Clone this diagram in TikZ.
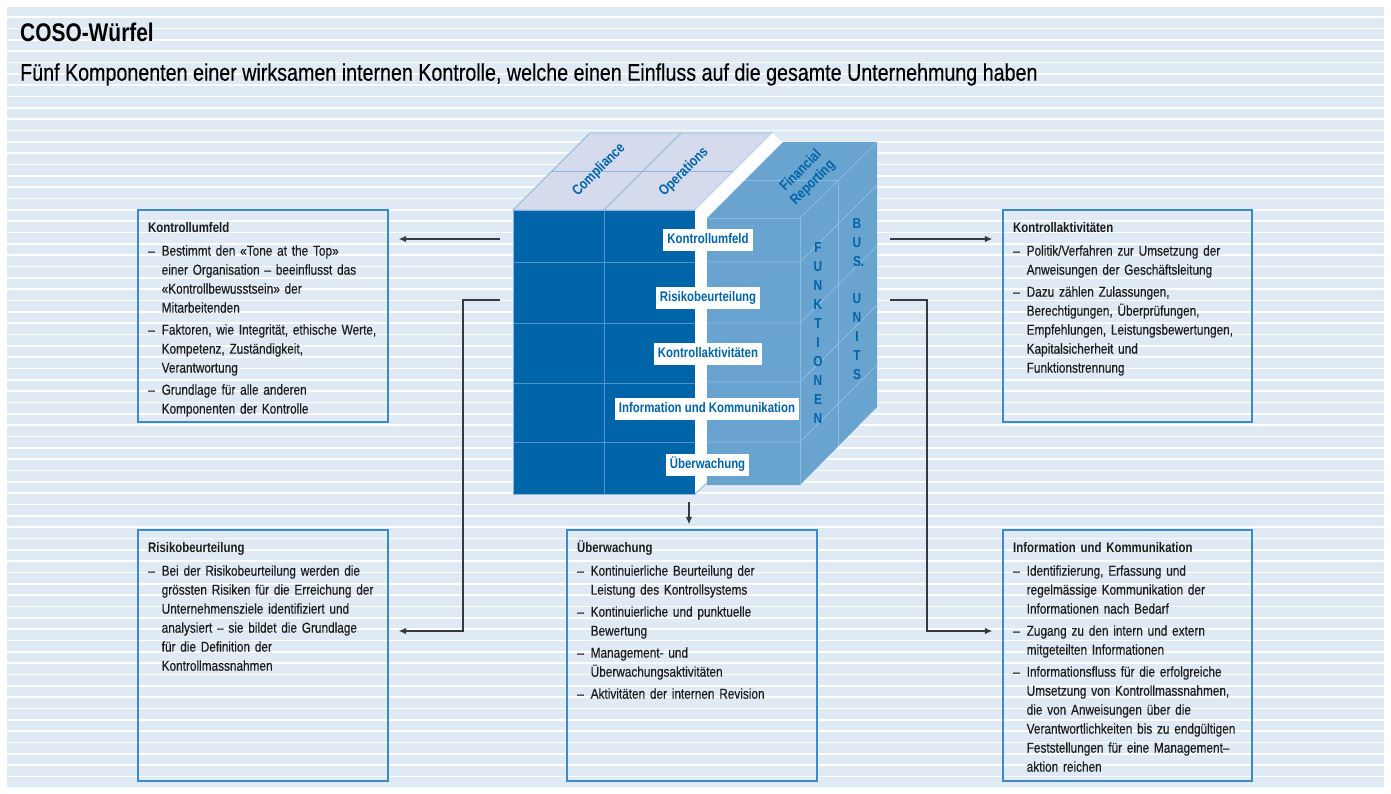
\documentclass[tikz,border=0pt]{standalone}
\usepackage{fontspec}
\setmainfont{Liberation Sans}[FakeStretch=0.82, UprightFeatures={FakeBold=0.3}]
\usetikzlibrary{arrows.meta}

\definecolor{bgblue}{HTML}{DFEAF4}
\definecolor{boxblue}{HTML}{3B8BCB}
\definecolor{cubedark}{HTML}{0064A8}
\definecolor{cubelight}{HTML}{68A4CF}
\definecolor{cubetop}{HTML}{D5DBEC}
\definecolor{topline}{HTML}{8DB7DD}
\definecolor{frontline}{HTML}{5296CE}
\definecolor{lightline}{HTML}{8CBCE0}
\definecolor{ink}{HTML}{1C1C1C}
\definecolor{arrowgray}{HTML}{343A40}

% list helpers for the panel texts
\newcommand{\dashitem}{\makebox[13.5pt][l]{–}}
\newcommand{\cont}{\hspace*{13.5pt}}
\newcommand{\ptitle}[1]{\noindent\rule{0pt}{14pt}{\fontsize{13.9}{19}\selectfont\bfseries #1}}

\begin{document}
\begin{tikzpicture}[x=1pt,y=-1pt,
  stripe/.style={draw=white, line width=1.6pt},
  panel/.style={draw=boxblue, line width=1.1pt, inner sep=0pt},
  bodytext/.style={anchor=north west, inner sep=0pt, text width=262pt, align=left,
    font=\fontsize{14.4}{19}\selectfont, text=ink},
  cubelabel/.style={fill=white, text=cubedark, font=\fontsize{13.9}{16}\selectfont\bfseries,
    inner xsep=4pt, inner ysep=0pt, text height=11pt, text depth=3.5pt, minimum height=22pt},
  toplabel/.style={text=cubedark, font=\fontsize{14.5}{17}\selectfont\bfseries, inner sep=0pt},
  sidelabel/.style={text=cubedark, font=\fontsize{14.5}{18.9}\selectfont\bfseries, align=center, inner sep=0pt},
  conn/.style={draw=arrowgray, line width=1.5pt, -{Latex[length=7.5pt,width=6.5pt]}},
  tline/.style={draw=topline, line width=0.9pt},
  fline/.style={draw=frontline, line width=1pt},
  lline/.style={draw=lightline, line width=0.8pt}
]
\useasboundingbox (0,0) rectangle (1391,794);

% striped background
\fill[white] (0,0) rectangle (1391,794);
\fill[bgblue] (7,7) rectangle (1384,788);
\foreach \k in {0,...,68}
  \draw[stripe] (7,{17.3+11.333*\k}) -- (1384,{17.3+11.333*\k});

% headings
\node[anchor=base west, inner sep=0pt, font=\fontsize{25.5}{28}\selectfont\bfseries, text=black] (title) at (20,41.7) {COSO-Würfel};
\node[anchor=base west, inner sep=0pt, font=\fontsize{24}{27}\selectfont, text=black] (subtitle) at (20,80.7)
  {Fünf Komponenten einer wirksamen internen Kontrolle, welche einen Einfluss auf die gesamte Unternehmung haben};

% panels
\node[panel, minimum width=250pt, minimum height=212pt] (b1) at (263,316) {};
\node[panel, minimum width=249pt, minimum height=212pt] (b2) at (1127.5,316) {};
\node[panel, minimum width=250pt, minimum height=251pt] (b3) at (263,655.5) {};
\node[panel, minimum width=250pt, minimum height=251pt] (b4) at (692,655.5) {};
\node[panel, minimum width=249pt, minimum height=251pt] (b5) at (1127.5,655.5) {};

\node[bodytext] (t1) at (148,218) {\ptitle{Kontrollumfeld}\\[4.5pt]
\dashitem Bestimmt den «Tone at the Top»\\
\cont einer Organisation – beeinflusst das\\
\cont «Kontrollbewusstsein» der\\
\cont Mitarbeitenden\\[3pt]
\dashitem Faktoren, wie Integrität, ethische Werte,\\
\cont Kompetenz, Zuständigkeit,\\
\cont Verantwortung\\[3pt]
\dashitem Grundlage für alle anderen\\
\cont Komponenten der Kontrolle};

\node[bodytext] (t2) at (1013,218) {\ptitle{Kontrollaktivitäten}\\[4.5pt]
\dashitem Politik/Verfahren zur Umsetzung der\\
\cont Anweisungen der Geschäftsleitung\\[3pt]
\dashitem Dazu zählen Zulassungen,\\
\cont Berechtigungen, Überprüfungen,\\
\cont Empfehlungen, Leistungsbewertungen,\\
\cont Kapitalsicherheit und\\
\cont Funktionstrennung};

\node[bodytext] (t3) at (148,538) {\ptitle{Risikobeurteilung}\\[4.5pt]
\dashitem Bei der Risikobeurteilung werden die\\
\cont grössten Risiken für die Erreichung der\\
\cont Unternehmensziele identifiziert und\\
\cont analysiert – sie bildet die Grundlage\\
\cont für die Definition der\\
\cont Kontrollmassnahmen};

\node[bodytext] (t4) at (577,538) {\ptitle{Überwachung}\\[4.5pt]
\dashitem Kontinuierliche Beurteilung der\\
\cont Leistung des Kontrollsystems\\[3pt]
\dashitem Kontinuierliche und punktuelle\\
\cont Bewertung\\[3pt]
\dashitem Management- und\\
\cont Überwachungsaktivitäten\\[3pt]
\dashitem Aktivitäten der internen Revision};

\node[bodytext] (t5) at (1013,538) {\ptitle{Information und Kommunikation}\\[4.5pt]
\dashitem Identifizierung, Erfassung und\\
\cont regelmässige Kommunikation der\\
\cont Informationen nach Bedarf\\[3pt]
\dashitem Zugang zu den intern und extern\\
\cont mitgeteilten Informationen\\[3pt]
\dashitem Informationsfluss für die erfolgreiche\\
\cont Umsetzung von Kontrollmassnahmen,\\
\cont die von Anweisungen über die\\
\cont Verantwortlichkeiten bis zu endgültigen\\
\cont Feststellungen für eine Management–\\
\cont aktion reichen};

% ---- cube: dark slab (Compliance, Operations)
\fill[cubetop] (513,210) -- (695,210) -- (772,133) -- (590,133) -- cycle;
\draw[tline] (551.5,171.5) -- (733.5,171.5);
\draw[tline] (604,210) -- (681,133);
\draw[tline] (513,210) -- (695,210) -- (772,133) -- (590,133) -- cycle;
\fill[cubedark] (513,210) rectangle (695,494);
\draw[fline] (604,210) -- (604,494);
\foreach \yy in {263,323,383,442} \draw[fline] (513,\yy) -- (695,\yy);
\draw[tline] (513,210) rectangle (695,494);

% cut face between the slabs
\fill[white] (695,210) -- (772,133) -- (783,142) -- (707,218) -- (707,483) -- (695,494) -- cycle;
\draw[tline] (695,494) -- (707,483);

% ---- cube: light slab (Financial Reporting)
\fill[cubelight] (707,218) -- (783,142) -- (877,142) -- (877,407) -- (800,485) -- (707,485) -- cycle;
\draw[lline] (707,218) -- (800,218) -- (800,485);
\draw[lline] (800,218) -- (877,142);
\draw[lline] (745,180) -- (838.5,180) -- (838.5,446);
\foreach \yy in {262,323,382,442} {
  \draw[lline] (707,\yy) -- (800,\yy) -- (877,\yy-77);
}

% top face labels
\node[toplabel, rotate=45] (lc) at (599,170) {Compliance};
\node[toplabel, rotate=45] (lo) at (684,172) {Operations};
\node[toplabel, rotate=45, align=center] (lf) at (807,177) {Financial\\Reporting};

% side face labels
\node[sidelabel] (lfk) at (818,333) {F\\U\\N\\K\\T\\I\\O\\N\\E\\N};
\node[sidelabel] (lbu) at (857,299) {B\\U\\S\rlap{.}\\\mbox{}\\U\\N\\I\\T\\S};

% component labels on the front
\node[cubelabel] (k1) at (708,240) {Kontrollumfeld};
\node[cubelabel] (k2) at (708,297.5) {Risikobeurteilung};
\node[cubelabel] (k3) at (708,353.5) {Kontrollaktivitäten};
\node[cubelabel] (k4) at (707,408.5) {Information und Kommunikation};
\node[cubelabel] (k5) at (707.5,465) {Überwachung};

% connectors
\coordinate (c1) at (500,239);
\coordinate (c2) at (890,239);
\coordinate (c3) at (500,300);
\coordinate (c4) at (890,300);
\coordinate (c5) at (689,502);
\coordinate (e3) at (463,631);
\coordinate (e4) at (927,631);
\draw[conn, shorten >=10pt] (c1) -- (c1 -| b1.east);
\draw[conn, shorten >=10pt] (c2) -- (c2 -| b2.west);
\draw[conn, shorten >=10pt] (c3) -| (e3) -- (e3 -| b3.east);
\draw[conn, shorten >=10pt] (c4) -| (e4) -- (e4 -| b5.west);
\draw[conn, shorten >=5pt] (c5) -- (c5 |- b4.north);
\end{tikzpicture}
\end{document}
